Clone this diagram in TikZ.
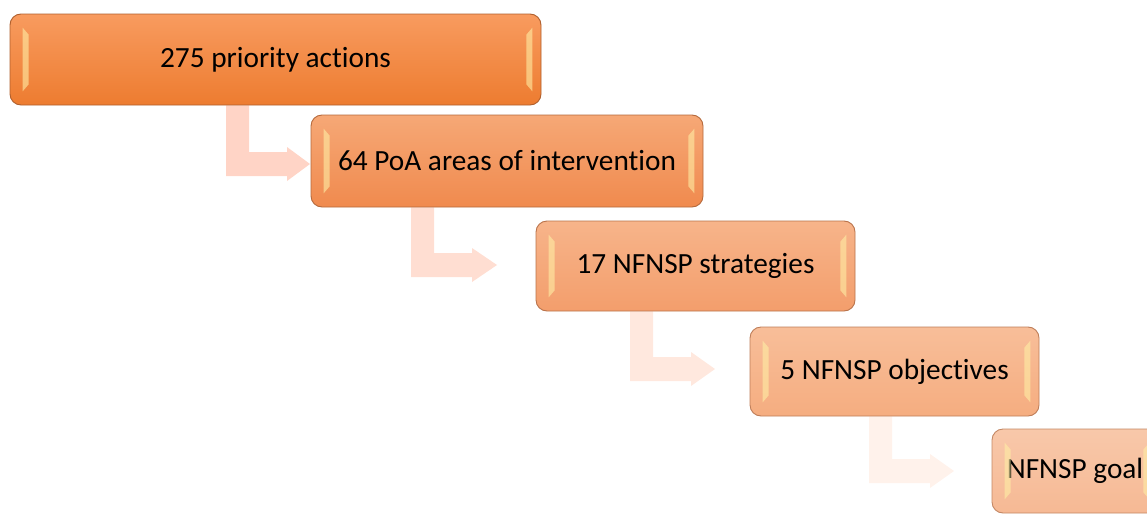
\documentclass[tikz,border=0pt]{standalone}
\usepackage{fontspec}
\setmainfont{Carlito}[Ligatures=NoCommon]
\usetikzlibrary{calc,backgrounds}
\definecolor{aA}{RGB}{255,212,198}
\definecolor{aB}{RGB}{255,222,210}
\definecolor{aC}{RGB}{255,232,222}
\definecolor{aD}{RGB}{255,242,235}
\definecolor{tA}{RGB}{248,155,95}\definecolor{bA}{RGB}{237,124,48}\definecolor{dA}{RGB}{175,95,45}
\definecolor{tB}{RGB}{246,168,118}\definecolor{bB}{RGB}{240,138,78}\definecolor{dB}{RGB}{180,105,60}
\definecolor{tC}{RGB}{247,180,138}\definecolor{bC}{RGB}{243,158,108}\definecolor{dC}{RGB}{185,115,75}
\definecolor{tD}{RGB}{248,190,153}\definecolor{bD}{RGB}{245,173,128}\definecolor{dD}{RGB}{190,125,88}
\definecolor{tE}{RGB}{248,200,170}\definecolor{bE}{RGB}{246,185,148}\definecolor{dE}{RGB}{195,135,100}
\definecolor{glossc}{RGB}{255,238,165}
\tikzset{
  stepbox/.style n args={3}{rounded corners=11pt, line width=0.9pt, draw=#3,
    top color=#1, bottom color=#2, inner sep=0pt,
    font=\fontsize{29.3}{34}\selectfont, text=black},
  gloss/.style={fill=glossc, fill opacity=0.6},
}
% bent arrow: #1 colour, #2 source node, #3 bar left x, #4 horizontal bar top y, #5 head base x, #6 tip x
\newcommand\bentarr[6]{%
  \fill[#1] let \p1=(#2.south) in
    (#3pt,\y1) -- (#3pt+23pt,\y1) -- (#3+23,#4) -- (#5,#4) -- (#5,#4-5)
    -- (#6,#4+12) -- (#5,#4+29) -- (#5,#4+24) -- (#3,#4+24) -- cycle;}
\newcommand\glossy[1]{%
  \fill[gloss] ($(#1.north west)+(13,14)$) -- ($(#1.south west)+(13,-14)$)
    -- ($(#1.south west)+(19,-21)$) -- ($(#1.north west)+(19,21)$) -- cycle;
  \fill[gloss] ($(#1.north east)+(-9,14)$) -- ($(#1.south east)+(-9,-14)$)
    -- ($(#1.south east)+(-15,-21)$) -- ($(#1.north east)+(-15,21)$) -- cycle;}
\begin{document}
\begin{tikzpicture}[x=1pt,y=-1pt]
\useasboundingbox (0,0) rectangle (1147,514);
\clip (0,0) rectangle (1147,514);
\path
  (275.5,59.5) node[stepbox={tA}{bA}{dA}, minimum width=531pt, minimum height=91pt] (b1) {275 priority actions}
  (507,161)    node[stepbox={tB}{bB}{dB}, minimum width=392pt, minimum height=92pt] (b2) {64 PoA areas of intervention}
  (695.5,266)  node[stepbox={tC}{bC}{dC}, minimum width=319pt, minimum height=90pt] (b3) {17 NFNSP strategies}
  (894.5,371.5) node[stepbox={tD}{bD}{dD}, minimum width=289pt, minimum height=89pt] (b4) {5 NFNSP objectives}
  (1075,471)   node[stepbox={tE}{bE}{dE}, minimum width=166pt, minimum height=84pt] (b5) {NFNSP goal};
\glossy{b1}\glossy{b2}\glossy{b3}\glossy{b4}\glossy{b5}
\begin{scope}[on background layer]
  \bentarr{aA}{b1}{226}{152}{287}{310}
  \bentarr{aB}{b2}{411}{253}{472}{497}
  \bentarr{aC}{b3}{630}{357}{691}{715}
  \bentarr{aD}{b4}{869}{459}{930}{954}
\end{scope}
\end{tikzpicture}
\end{document}
